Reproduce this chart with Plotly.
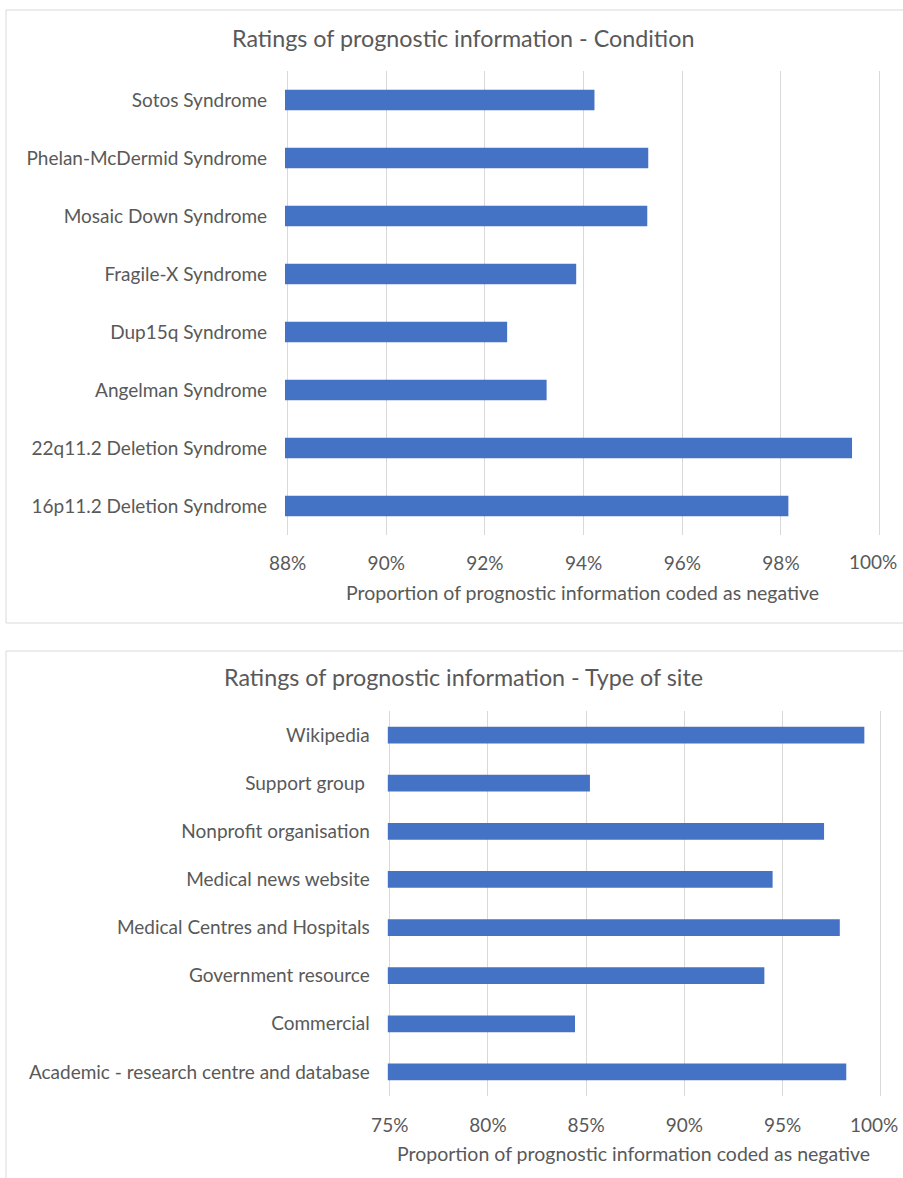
import plotly.graph_objects as go

# Panel 1 data (top to bottom)
conditions = ["Sotos Syndrome", "Phelan-McDermid Syndrome", "Mosaic Down Syndrome",
              "Fragile-X Syndrome", "Dup15q Syndrome", "Angelman Syndrome",
              "22q11.2 Deletion Syndrome", "16p11.2 Deletion Syndrome"]
condition_values = [0.9422, 0.9531, 0.9529, 0.9385, 0.9245, 0.9325, 0.9944, 0.9815]

# Panel 2 data (top to bottom)
site_types = ["Wikipedia", "Support group ", "Nonprofit organisation", "Medical news website",
              "Medical Centres and Hospitals", "Government resource", "Commercial",
              "Academic - research centre and database"]
site_values = [0.9916, 0.8519, 0.9711, 0.9449, 0.9791, 0.9407, 0.8443, 0.9824]

ticks1 = [0.88, 0.90, 0.92, 0.94, 0.96, 0.98, 1.00]
ticks2 = [0.75, 0.80, 0.85, 0.90, 0.95, 1.00]

W, H = 903, 1178
FONT = "Lato"
GREY = "#595959"
BAR = "#4472C4"
GRID = "#d9d9d9"

def px(x):
    return x / W

def py(y):
    return 1 - y / H

def labels(ticks):
    # the last (100%) label is placed separately so it stays inside the page
    return [f"{round(v*100)}%" if v < 1 else "" for v in ticks]

fig = go.Figure()
fig.add_trace(go.Bar(x=condition_values, y=conditions, orientation="h",
                     marker=dict(color=BAR, line=dict(width=0)), width=0.35,
                     xaxis="x", yaxis="y", hoverinfo="x+y"))
fig.add_trace(go.Bar(x=site_values, y=site_types, orientation="h",
                     marker=dict(color=BAR, line=dict(width=0)), width=0.35,
                     xaxis="x2", yaxis="y2", hoverinfo="x+y"))

axis_common = dict(showline=False, zeroline=False, ticks="", automargin=False,
                   ticklabeloverflow="allow",
                   tickfont=dict(family=FONT, size=19, color=GREY))

fig.update_layout(
    width=W, height=H, margin=dict(l=0, r=0, t=0, b=0, autoexpand=False),
    paper_bgcolor="white", plot_bgcolor="white", showlegend=False,
    xaxis=dict(domain=[px(285.1), px(892.0)], range=[0.8795, 1.0025],
               tickvals=ticks1, ticktext=labels(ticks1),
               showgrid=True, gridcolor=GRID, gridwidth=1,
               anchor="y", ticklabelstandoff=15, **axis_common),
    yaxis=dict(domain=[py(535), py(71)], autorange="reversed", showgrid=False,
               anchor="x", ticklabelstandoff=17, **axis_common),
    xaxis2=dict(domain=[px(387.8), px(888.7)], range=[0.749, 1.004],
                tickvals=ticks2, ticktext=labels(ticks2),
                showgrid=True, gridcolor=GRID, gridwidth=1,
                anchor="y2", ticklabelstandoff=16, **axis_common),
    yaxis2=dict(domain=[py(1096), py(711)], autorange="reversed", showgrid=False,
                anchor="x2", ticklabelstandoff=17, **axis_common),
    shapes=[
        dict(type="rect", xref="paper", yref="paper", x0=px(6), x1=px(920),
             y0=py(623), y1=py(10), line=dict(color=GRID, width=1), layer="below"),
        dict(type="rect", xref="paper", yref="paper", x0=px(6), x1=px(920),
             y0=py(1200), y1=py(651), line=dict(color=GRID, width=1), layer="below"),
    ],
    annotations=[
        dict(text="Ratings of prognostic information - Condition", xref="paper", yref="paper",
             x=px(463), y=py(38), showarrow=False, xanchor="center", yanchor="middle",
             font=dict(family=FONT, size=23.3, color=GREY)),
        dict(text="Proportion of prognostic information coded as negative", xref="paper", yref="paper",
             x=px(582), y=py(592), showarrow=False, xanchor="center", yanchor="middle",
             font=dict(family=FONT, size=19.5, color=GREY)),
        dict(text="Ratings of prognostic information - Type of site", xref="paper", yref="paper",
             x=px(464), y=py(677), showarrow=False, xanchor="center", yanchor="middle",
             font=dict(family=FONT, size=23.3, color=GREY)),
        dict(text="Proportion of prognostic information coded as negative", xref="paper", yref="paper",
             x=px(633), y=py(1153), showarrow=False, xanchor="center", yanchor="middle",
             font=dict(family=FONT, size=19.5, color=GREY)),
        dict(text=f"{round(ticks1[-1]*100)}%", xref="paper", yref="paper",
             x=px(899), y=py(562), showarrow=False, xanchor="right", yanchor="middle",
             font=dict(family=FONT, size=19, color=GREY)),
        dict(text=f"{round(ticks2[-1]*100)}%", xref="paper", yref="paper",
             x=px(900), y=py(1124), showarrow=False, xanchor="right", yanchor="middle",
             font=dict(family=FONT, size=19, color=GREY)),
    ],
)

fig.write_html("out.html")
